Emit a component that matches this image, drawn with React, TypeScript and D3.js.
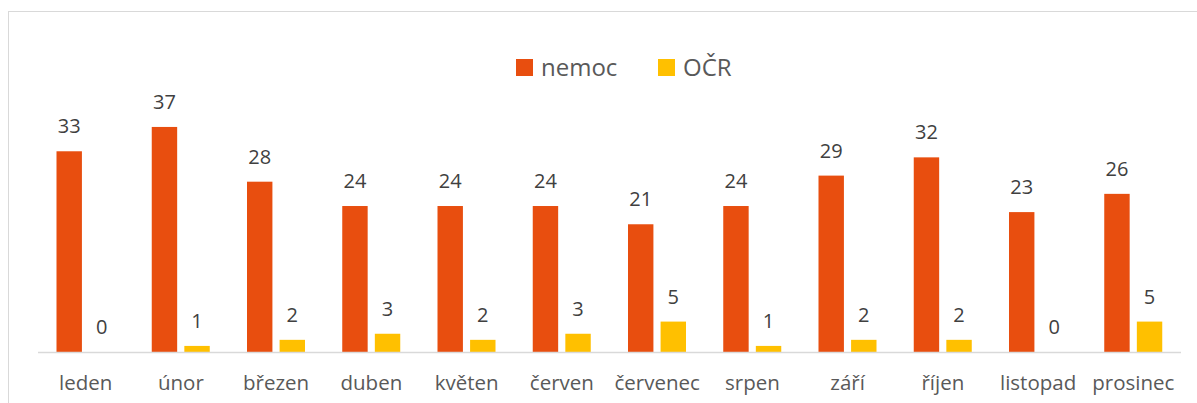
import React from "react";
import * as d3 from "d3";

const categories = ["leden", "únor", "březen", "duben", "květen", "červen", "červenec", "srpen", "září", "říjen", "listopad", "prosinec"];
const nemoc = [33, 37, 28, 24, 24, 24, 21, 24, 29, 32, 23, 26];
const ocr = [0, 1, 2, 3, 2, 3, 5, 1, 2, 2, 0, 5];
const seriesNames = ["nemoc", "OČR"];
const colors = ["#E84E0F", "#FFC000"];

const W = 1197;
const H = 403;
const FONT = "'Open Sans', sans-serif";
const TEXT = "#595959";

export default function App() {
  const x = d3.scaleBand<string>().domain(categories).range([38, 1181]);
  const inner = d3.scaleBand<number>().domain([0, 1]).range([18.5, 76.5]).paddingInner(0.22);
  const y = d3.scaleLinear().domain([0, 40]).range([352, 108.7]);
  const series = [nemoc, ocr];

  return (
    <svg width={W} height={H} style={{ position: "absolute", left: 0, top: 0, background: "#fff" }}>
      <rect x={8.5} y={11.5} width={W + 10} height={H + 10} fill="#fff" stroke="#d9d9d9" strokeWidth={1} />
      {/* legend */}
      <g fontFamily={FONT} fontSize={24} fill={TEXT}>
        <rect x={516} y={59} width={17} height={17} fill={colors[0]} />
        <text x={541} y={76}>{seriesNames[0]}</text>
        <rect x={658} y={59} width={17} height={17} fill={colors[1]} />
        <text x={683} y={76}>{seriesNames[1]}</text>
      </g>
      {/* bars */}
      {series.map((vals, si) =>
        vals.map((v, i) => {
          const bx = (x(categories[i]) ?? 0) + (inner(si) ?? 0);
          const bw = inner.bandwidth();
          return (
            <g key={`${si}-${i}`}>
              <rect x={bx} y={y(v)} width={bw} height={y(0) - y(v)} fill={colors[si]} />
              <text x={bx + bw / 2} y={y(v) - 18} textAnchor="middle" fontFamily={FONT} fontSize={20} fill="#404040">
                {v}
              </text>
            </g>
          );
        })
      )}
      {/* axis line */}
      <line x1={38} x2={1181} y1={352.5} y2={352.5} stroke="#d9d9d9" strokeWidth={1.5} />
      {/* category labels */}
      {categories.map((c) => (
        <text key={c} x={(x(c) ?? 0) + x.bandwidth() / 2} y={390} textAnchor="middle" fontFamily={FONT} fontSize={20.5} fill={TEXT}>
          {c}
        </text>
      ))}
    </svg>
  );
}
